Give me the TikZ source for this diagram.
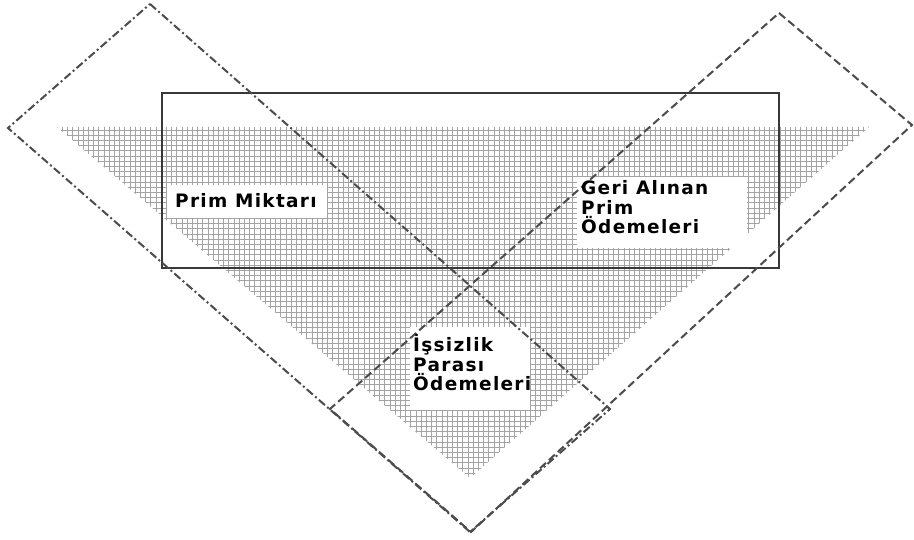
\documentclass[tikz,border=0pt]{standalone}
\usepackage{fontspec}
\newfontfamily\lblfont[LetterSpace=7]{DejaVu Sans Bold}
\begin{document}
\begin{tikzpicture}[x=1pt,y=-1pt,
  gridline/.style={draw=black!36,line width=0.65pt},
  frame/.style={draw=black!78,line width=1.8pt},
  dashdotline/.style={draw=black!70,line width=2pt,dash pattern=on 8pt off 3pt on 2pt off 3pt},
  dashline/.style={draw=black!70,line width=2pt,dash pattern=on 8pt off 4pt},
  whitebox/.style={fill=white,draw=none},
  lbl/.style={font=\lblfont\fontsize{18.5}{19.5}\selectfont,align=left,inner sep=0pt,anchor=base west,text=black}]
\useasboundingbox (0,0) rectangle (914,540);
\fill[white] (0,0) rectangle (914,540);
% hatched triangle
\coordinate (tl) at (57,127);
\coordinate (tr) at (869,127);
\coordinate (ap) at (470,478);
\begin{scope}
  \clip (tl) -- (tr) -- (ap) -- cycle;
  \draw[gridline,step=5.2pt] (50,125) grid (880,490);
\end{scope}
% white label boxes
\node[whitebox,minimum width=160pt,minimum height=33pt,anchor=north west] (b1) at (167,185) {};
\node[whitebox,minimum width=170pt,minimum height=71pt,anchor=north west] (b2) at (577,177) {};
\node[whitebox,minimum width=120pt,minimum height=83pt,anchor=north west] (b3) at (410,327) {};
% rectangle
\node[frame,minimum width=617pt,minimum height=175pt,anchor=north west,inner sep=0pt] (rect) at (161,92) {};
% left diamond (dash-dot)
\coordinate (lt) at (150,4);
\coordinate (ll) at (8,128);
\coordinate (lb) at (470,532);
\coordinate (lr) at (610,409);
\draw[dashdotline] (lt) -- (lr) -- (lb) -- (ll) -- cycle;
% right diamond (dashed)
\coordinate (rt) at (779,13);
\coordinate (rr) at (912,125);
\coordinate (rb) at (471,532);
\coordinate (rl) at (330,409);
\draw[dashline] (rt) -- (rr) -- (rb) -- (rl) -- cycle;
% labels
\node[lbl] (t1) at (175,208) {Prim Miktarı};
\node[lbl] (t2) at (581,195) {Geri Alınan};
\node[lbl] (t2b) at (581,215) {Prim};
\node[lbl] (t2c) at (581,234) {Ödemeleri};
\node[lbl] (t3) at (413,352) {İşsizlik};
\node[lbl] (t3b) at (413,371) {Parası};
\node[lbl] (t3c) at (413,390) {Ödemeleri};
\end{tikzpicture}
\end{document}
